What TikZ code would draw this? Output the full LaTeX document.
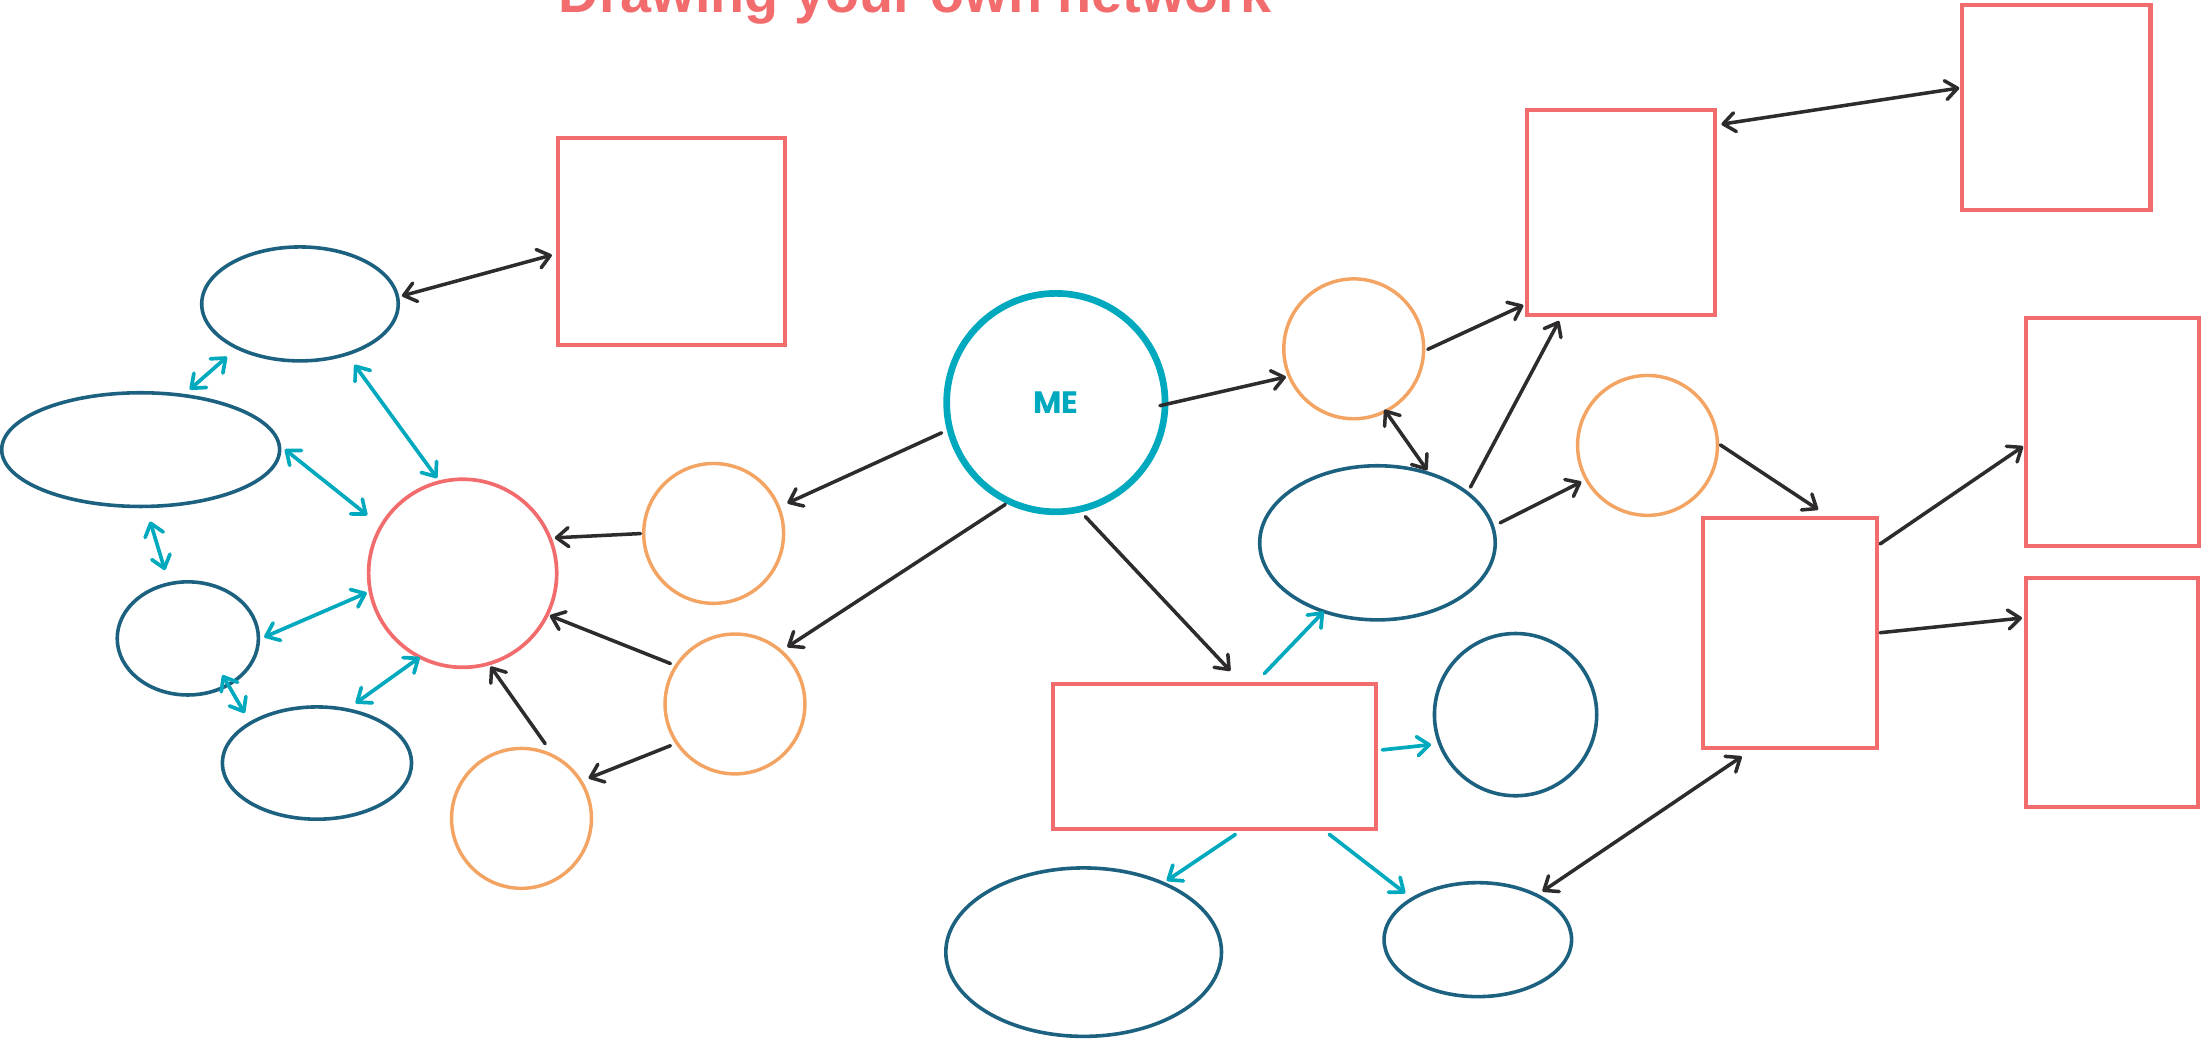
\documentclass[tikz,border=0pt]{standalone}
\usepackage{fontspec}
\usetikzlibrary{arrows.meta,shapes.geometric}
\newfontfamily\titlefont{Liberation Sans}
\newfontfamily\mefont{Poppins}
\definecolor{mycoral}{RGB}{242,108,110}
\definecolor{myorange}{RGB}{244,164,98}
\definecolor{myteal}{RGB}{0,169,189}
\definecolor{mynavy}{RGB}{28,98,128}
\definecolor{myink}{RGB}{45,43,43}
\tikzset{
  >={Straight Barb[length=3.4pt,width=5.4pt,round]},
  box/.style={draw=mycoral, line width=1.14pt, rectangle, inner sep=0pt, outer sep=0pt},
  ring/.style={draw=myorange, line width=0.98pt, circle, inner sep=0pt, outer sep=0pt, minimum size=39.8pt},
  oval/.style={draw=mynavy, line width=1.02pt, ellipse, inner sep=0pt, outer sep=0pt},
  blk/.style={draw=myink, line width=1.0pt, line cap=round},
  tl/.style={draw=myteal, line width=1.05pt, line cap=round},
}
\begin{document}
\begin{tikzpicture}[x=0.014037cm,y=-0.014037cm]
\fill[white] (0,0) rectangle (1568,742);
\useasboundingbox (0,0) rectangle (1568,742);

% title
\node[anchor=base, inner sep=0pt, text=mycoral, font=\titlefont\bfseries\fontsize{15.87pt}{19pt}\selectfont] (title) at (652,8.8) {Drawing your own network};

% ME
\node[circle, draw=myteal, line width=1.9pt, inner sep=0pt, outer sep=0pt, minimum size=62.15pt, text=myteal, font=\mefont\bfseries\fontsize{8.8pt}{10pt}\selectfont] (ME) at (752.2,286.8) {ME};

% rectangles
\node[box, minimum width=64.70pt, minimum height=58.71pt] (R1) at (478.5,172) {};
\node[box, minimum width=53.40pt, minimum height=58.27pt] (R2) at (1155,151.5) {};
\node[box, minimum width=53.52pt, minimum height=58.59pt] (R3) at (1465,76.6) {};
\node[box, minimum width=49.13pt, minimum height=65.10pt] (R4) at (1505,307.8) {};
\node[box, minimum width=48.89pt, minimum height=65.22pt] (R5) at (1504.4,493.2) {};
\node[box, minimum width=49.37pt, minimum height=65.22pt] (R6) at (1275.1,451) {};
\node[box, minimum width=91.94pt, minimum height=41.30pt] (R7) at (865.2,538.7) {};

% orange circles
\node[ring] (O1) at (964.4,248.5) {};
\node[ring] (O2) at (508.4,380) {};
\node[ring] (O3) at (523.6,501.5) {};
\node[ring] (O4) at (371.5,583) {};
\node[ring] (O5) at (1173.7,317.3) {};

% red circle
\node[circle, draw=mycoral, line width=1.05pt, inner sep=0pt, outer sep=0pt, minimum size=53.52pt] (Red) at (329.6,408.4) {};

% dark ellipses
\node[oval, minimum width=55.92pt, minimum height=32.43pt] (E1) at (213.7,216.5) {};
\node[oval, minimum width=79.08pt, minimum height=32.35pt] (E2) at (100.2,320.3) {};
\node[oval, minimum width=40.18pt, minimum height=32.19pt] (E3) at (133.8,454.8) {};
\node[oval, minimum width=53.84pt, minimum height=31.95pt] (E4) at (225.8,543.6) {};
\node[oval, minimum width=67.02pt, minimum height=43.85pt] (E5) at (981.3,386.7) {};
\node[oval, minimum width=46.17pt, minimum height=46.17pt] (E6) at (1079.7,509.1) {};
\node[oval, minimum width=78.44pt, minimum height=47.93pt] (E7) at (772,678.3) {};
\node[oval, minimum width=53.36pt, minimum height=32.43pt] (E8) at (1052.8,669.4) {};

% dark connectors
\draw[blk,<->,shorten <=1.3pt,shorten >=1.8pt] (E1.4) -- (R1.186);
\draw[blk,->,shorten <=2.6pt,shorten >=2.8pt] (ME.194) -- (O2.22);
\draw[blk,->,shorten <=1.5pt,shorten >=2.2pt] (ME.245) -- (O3.49);
\draw[blk,->,shorten <=2.8pt,shorten >=5.0pt] (ME.282) -- (R7.69);
\draw[blk,->,shorten <=-1.5pt,shorten >=1.0pt] (ME.359) -- (O1.203);
\draw[blk,->,shorten <=1.3pt,shorten >=1.3pt] (O1.358) -- (R2.224);
\draw[blk,<->,shorten <=-0.5pt,shorten >=1.2pt] (O1.297) -- (E5.53);
\draw[blk,->,shorten <=1.9pt,shorten >=1.9pt] (E5.29) -- (R2.240);
\draw[blk,->,shorten <=2.4pt,shorten >=1.6pt] (E5.8) -- (O5.209);
\draw[blk,->,shorten <=1.0pt,shorten >=4.6pt] (O5.2) -- (R6.70);
\draw[blk,->,shorten <=1.2pt,shorten >=1.1pt] (R6.45) -- (R4.188);
\draw[blk,->,shorten <=1.0pt,shorten >=1.1pt] (R6.0) -- (R5.139);
\draw[blk,<->,shorten <=1.8pt,shorten >=0.9pt] (R2.43) -- (R3.168);
\draw[blk,<->,shorten <=2.0pt,shorten >=4.5pt] (E8.37) -- (R6.253);
\draw[blk,->,shorten <=0.9pt,shorten >=1.4pt] (O2.180) -- (Red.22);
\draw[blk,->,shorten <=1.8pt,shorten >=0.8pt] (O3.147) -- (Red.334);
\draw[blk,->,shorten <=2.0pt,shorten >=2.4pt] (O3.214) -- (O4.32);
\draw[blk,->,shorten <=4.5pt,shorten >=1.0pt] (O4.62) -- (Red.286);

% teal connectors
\draw[tl,<->,shorten <=1.4pt,shorten >=3.8pt] (Red.104) -- (E1.313);
\draw[tl,<->,shorten <=5.1pt,shorten >=2.1pt] (Red.150) -- (E2.2);
\draw[tl,<->,shorten <=1.1pt,shorten >=1.8pt] (Red.191) -- (E3.359);
\draw[tl,<->,shorten <=0.1pt,shorten >=3.2pt] (Red.243) -- (E4.61);
\draw[tl,<->,shorten <=3.9pt,shorten >=2.6pt] (E1.215) -- (E2.52);
\draw[tl,<->,shorten <=4.5pt,shorten >=4.1pt] (E2.275) -- (E3.109);
\draw[tl,<->,shorten <=-3.2pt,shorten >=3.3pt] (E3.311) -- (E4.149);
\draw[tl,->,shorten <=4.0pt,shorten >=0.1pt] (R7.61) -- (E5.232);
\draw[tl,->,shorten <=1.8pt,shorten >=2.5pt] (R7.2) -- (E6.201);
\draw[tl,->,shorten <=2.9pt,shorten >=1.3pt] (R7.292) -- (E7.41);
\draw[tl,->,shorten <=2.6pt,shorten >=2.6pt] (R7.326) -- (E8.148);
\end{tikzpicture}
\end{document}
